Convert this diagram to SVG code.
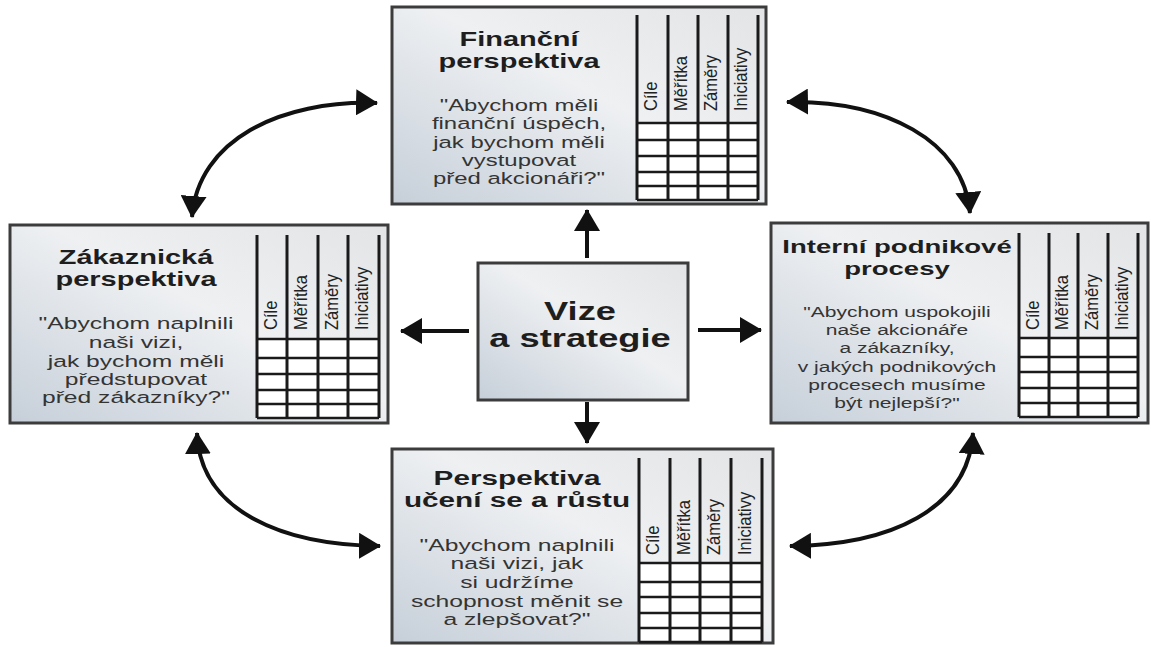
<svg xmlns="http://www.w3.org/2000/svg" width="1151" height="647" viewBox="0 0 1151 647">
<defs>
<linearGradient id="boxg" x1="0" y1="1" x2="1" y2="0">
<stop offset="0" stop-color="#c6cfd9"/>
<stop offset="0.55" stop-color="#eef0f2"/>
<stop offset="1" stop-color="#e2e4e6"/>
</linearGradient>
<marker id="ah" markerUnits="userSpaceOnUse" viewBox="0 0 22 26" markerWidth="22" markerHeight="26" refX="21" refY="13" orient="auto-start-reverse">
<path d="M0,0 L22,13 L0,26 z" fill="#111"/>
</marker>
<style>
.box{fill:url(#boxg);stroke:#3c3c3c;stroke-width:3}
.cells{fill:#fff;stroke:none}
.vl{stroke:#1a1a1a;stroke-width:3}
.hl{stroke:#1a1a1a;stroke-width:2.5}
.title{font-family:"Liberation Sans",Arial,sans-serif;font-weight:bold;fill:#1e1e1e;text-anchor:middle}
.quote{font-family:"Liberation Sans",Arial,sans-serif;fill:#343434;text-anchor:middle}
.col{font-family:"Liberation Sans",Arial,sans-serif;font-size:16.5px;fill:#222}
.conn{fill:none;stroke:#111;stroke-width:4;marker-end:url(#ah)}
.conn2{fill:none;stroke:#111;stroke-width:4;marker-start:url(#ah);marker-end:url(#ah)}
</style>
</defs>
<rect width="1151" height="647" fill="#fff"/>

<g id="connectors">
<line class="conn" x1="587" y1="258" x2="587" y2="210"/>
<line class="conn" x1="587" y1="402" x2="587" y2="443"/>
<line class="conn" x1="469" y1="331" x2="401" y2="331"/>
<line class="conn" x1="698" y1="330" x2="761" y2="330"/>
<path class="conn2" d="M377 103 C280 100 198 140 192 217"/>
<path class="conn2" d="M787 102 C884 100 964 140 970 213"/>
<path class="conn2" d="M197 433 C200 510 280 545 380 546"/>
<path class="conn2" d="M973 433 C968 510 890 545 790 546"/>
</g>

<g id="vize">
<rect class="box" x="478" y="263" width="210" height="137"/>
<g transform="translate(580 0) scale(1.45 1)">
<text class="title" x="0" y="320" font-size="25">Vize</text>
<text class="title" x="0" y="347" font-size="25">a strategie</text>
</g>
</g>

<g id="financni">
<rect class="box" x="392" y="7" width="374" height="197"/>
<rect class="cells" x="637" y="123" width="121" height="77"/>
<g transform="translate(519 0) scale(1.45 1)">
<text class="title" x="0" y="46" font-size="20">Finanční</text>
<text class="title" x="0" y="68" font-size="20">perspektiva</text>
<g font-size="16.5">
<text class="quote" x="0" y="111">"Abychom měli</text>
<text class="quote" x="0" y="129">finanční úspěch,</text>
<text class="quote" x="0" y="148">jak bychom měli</text>
<text class="quote" x="0" y="166">vystupovat</text>
<text class="quote" x="0" y="184">před akcionáři?"</text>
</g>
</g>
<g>
<line class="vl" x1="637" y1="15" x2="637" y2="200"/>
<line class="vl" x1="668" y1="15" x2="668" y2="200"/>
<line class="vl" x1="698" y1="15" x2="698" y2="200"/>
<line class="vl" x1="728" y1="15" x2="728" y2="200"/>
<line class="vl" x1="758" y1="15" x2="758" y2="200"/>
<line class="hl" x1="637" y1="123" x2="758" y2="123"/>
<line class="hl" x1="637" y1="140" x2="758" y2="140"/>
<line class="hl" x1="637" y1="156" x2="758" y2="156"/>
<line class="hl" x1="637" y1="172" x2="758" y2="172"/>
<line class="hl" x1="637" y1="186" x2="758" y2="186"/>
<line class="hl" x1="637" y1="200" x2="758" y2="200"/>
</g>
<text class="col" transform="translate(657 111) scale(1.15 1) rotate(-90)">Cíle</text>
<text class="col" transform="translate(687 111) scale(1.15 1) rotate(-90)">Měřítka</text>
<text class="col" transform="translate(717 111) scale(1.15 1) rotate(-90)">Záměry</text>
<text class="col" transform="translate(747 111) scale(1.15 1) rotate(-90)">Iniciativy</text>
</g>

<g id="zakaznicka">
<rect class="box" x="10" y="225" width="378" height="198"/>
<rect class="cells" x="257" y="339" width="122" height="79"/>
<g transform="translate(136 0) scale(1.45 1)">
<text class="title" x="0" y="264" font-size="20">Zákaznická</text>
<text class="title" x="0" y="286" font-size="20">perspektiva</text>
<g font-size="17">
<text class="quote" x="0" y="329">"Abychom naplnili</text>
<text class="quote" x="0" y="348">naši vizi,</text>
<text class="quote" x="0" y="367">jak bychom měli</text>
<text class="quote" x="0" y="385">předstupovat</text>
<text class="quote" x="0" y="403">před zákazníky?"</text>
</g>
</g>
<g>
<line class="vl" x1="257" y1="235" x2="257" y2="418"/>
<line class="vl" x1="287" y1="235" x2="287" y2="418"/>
<line class="vl" x1="318" y1="235" x2="318" y2="418"/>
<line class="vl" x1="348" y1="235" x2="348" y2="418"/>
<line class="vl" x1="379" y1="235" x2="379" y2="418"/>
<line class="hl" x1="257" y1="339" x2="379" y2="339"/>
<line class="hl" x1="257" y1="358" x2="379" y2="358"/>
<line class="hl" x1="257" y1="374" x2="379" y2="374"/>
<line class="hl" x1="257" y1="390" x2="379" y2="390"/>
<line class="hl" x1="257" y1="404" x2="379" y2="404"/>
<line class="hl" x1="257" y1="418" x2="379" y2="418"/>
</g>
<text class="col" transform="translate(277 330) scale(1.15 1) rotate(-90)">Cíle</text>
<text class="col" transform="translate(307 330) scale(1.15 1) rotate(-90)">Měřítka</text>
<text class="col" transform="translate(338 330) scale(1.15 1) rotate(-90)">Záměry</text>
<text class="col" transform="translate(368 330) scale(1.15 1) rotate(-90)">Iniciativy</text>
</g>

<g id="interni">
<rect class="box" x="771" y="223" width="377" height="200"/>
<rect class="cells" x="1019" y="338" width="119" height="79"/>
<g transform="translate(897 0) scale(1.45 1)">
<text class="title" x="0" y="253" font-size="19">Interní podnikové</text>
<text class="title" x="0" y="275" font-size="19">procesy</text>
<g font-size="14.5">
<text class="quote" x="0" y="317">"Abychom uspokojili</text>
<text class="quote" x="0" y="335">naše akcionáře</text>
<text class="quote" x="0" y="353">a zákazníky,</text>
<text class="quote" x="0" y="372">v jakých podnikových</text>
<text class="quote" x="0" y="390">procesech musíme</text>
<text class="quote" x="0" y="408">být nejlepší?"</text>
</g>
</g>
<g>
<line class="vl" x1="1019" y1="233" x2="1019" y2="417"/>
<line class="vl" x1="1049" y1="233" x2="1049" y2="417"/>
<line class="vl" x1="1078" y1="233" x2="1078" y2="417"/>
<line class="vl" x1="1108" y1="233" x2="1108" y2="417"/>
<line class="vl" x1="1138" y1="233" x2="1138" y2="417"/>
<line class="hl" x1="1019" y1="338" x2="1138" y2="338"/>
<line class="hl" x1="1019" y1="357" x2="1138" y2="357"/>
<line class="hl" x1="1019" y1="372" x2="1138" y2="372"/>
<line class="hl" x1="1019" y1="388" x2="1138" y2="388"/>
<line class="hl" x1="1019" y1="403" x2="1138" y2="403"/>
<line class="hl" x1="1019" y1="417" x2="1138" y2="417"/>
</g>
<text class="col" transform="translate(1039 330) scale(1.15 1) rotate(-90)">Cíle</text>
<text class="col" transform="translate(1068 330) scale(1.15 1) rotate(-90)">Měřítka</text>
<text class="col" transform="translate(1098 330) scale(1.15 1) rotate(-90)">Záměry</text>
<text class="col" transform="translate(1128 330) scale(1.15 1) rotate(-90)">Iniciativy</text>
</g>

<g id="uceni">
<rect class="box" x="392" y="449" width="381" height="194"/>
<rect class="cells" x="639" y="563" width="123" height="79"/>
<g transform="translate(517 0) scale(1.45 1)">
<text class="title" x="0" y="485" font-size="20.5">Perspektiva</text>
<text class="title" x="0" y="507" font-size="20.5">učení se a růstu</text>
<g font-size="17">
<text class="quote" x="0" y="551">"Abychom naplnili</text>
<text class="quote" x="0" y="569">naši vizi, jak</text>
<text class="quote" x="0" y="588">si udržíme</text>
<text class="quote" x="0" y="607">schopnost měnit se</text>
<text class="quote" x="0" y="625">a zlepšovat?"</text>
</g>
</g>
<g>
<line class="vl" x1="639" y1="458" x2="639" y2="642"/>
<line class="vl" x1="670" y1="458" x2="670" y2="642"/>
<line class="vl" x1="700" y1="458" x2="700" y2="642"/>
<line class="vl" x1="731" y1="458" x2="731" y2="642"/>
<line class="vl" x1="762" y1="458" x2="762" y2="642"/>
<line class="hl" x1="639" y1="563" x2="762" y2="563"/>
<line class="hl" x1="639" y1="582" x2="762" y2="582"/>
<line class="hl" x1="639" y1="597" x2="762" y2="597"/>
<line class="hl" x1="639" y1="613" x2="762" y2="613"/>
<line class="hl" x1="639" y1="628" x2="762" y2="628"/>
<line class="hl" x1="639" y1="642" x2="762" y2="642"/>
</g>
<text class="col" transform="translate(659 555) scale(1.15 1) rotate(-90)">Cíle</text>
<text class="col" transform="translate(690 555) scale(1.15 1) rotate(-90)">Měřítka</text>
<text class="col" transform="translate(720 555) scale(1.15 1) rotate(-90)">Záměry</text>
<text class="col" transform="translate(751 555) scale(1.15 1) rotate(-90)">Iniciativy</text>
</g>
</svg>
